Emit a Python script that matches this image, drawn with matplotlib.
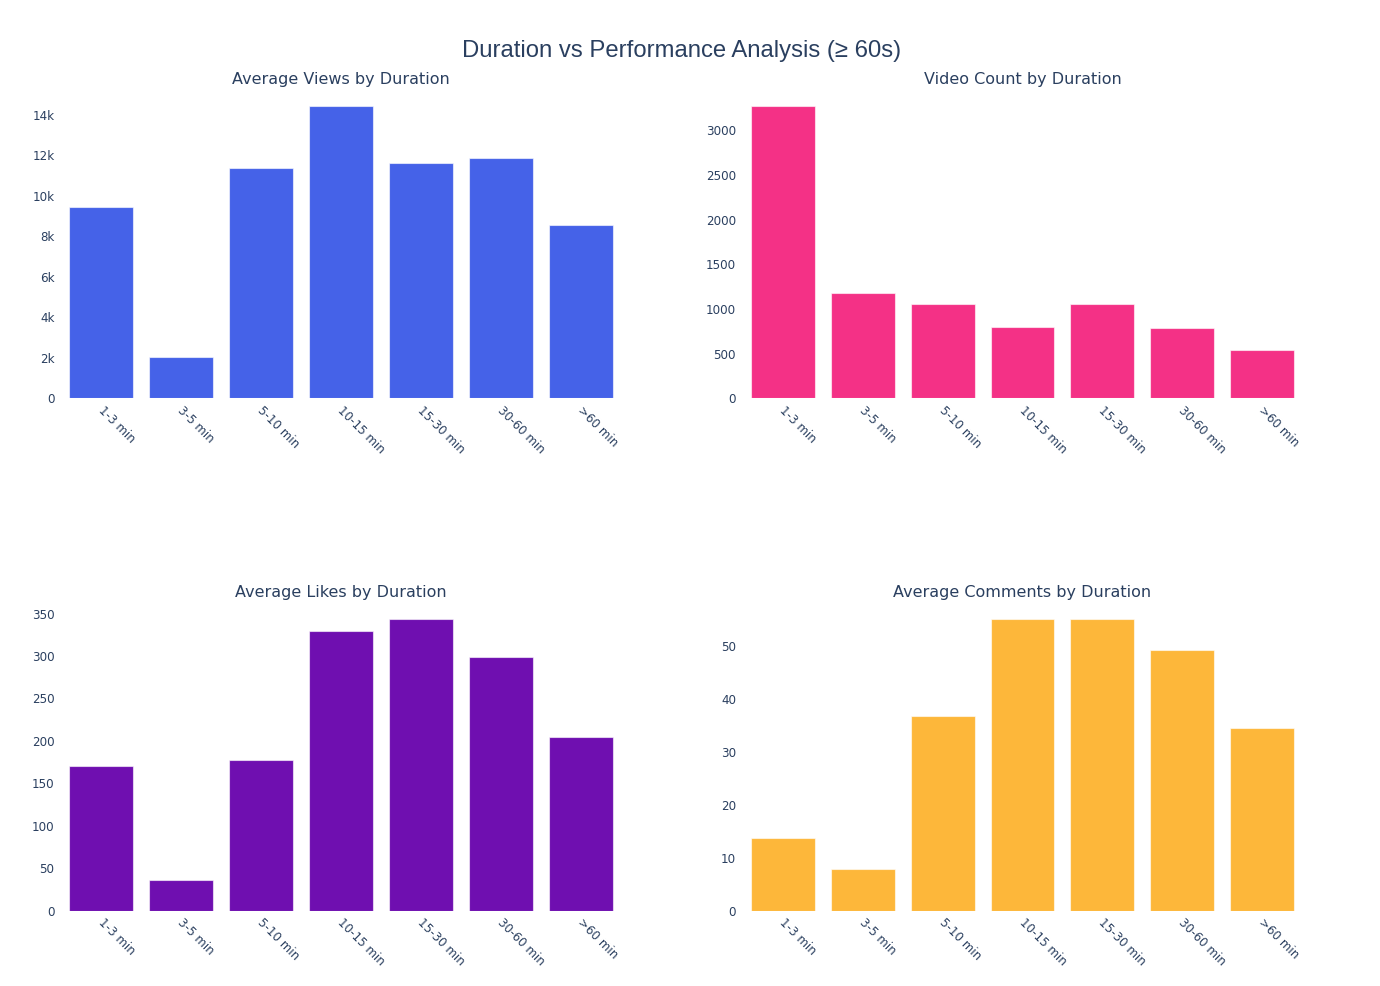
import matplotlib
matplotlib.use("Agg")
import matplotlib.pyplot as plt
from matplotlib.ticker import FuncFormatter

categories = ["1-3 min", "3-5 min", "5-10 min", "10-15 min", "15-30 min", "30-60 min", ">60 min"]
avg_views = [9430, 2040, 11360, 14460, 11620, 11890, 8560]
video_count = [3277, 1184, 1057, 799, 1061, 791, 538]
avg_likes = [170.3, 36.2, 177.8, 329.6, 344.1, 298.9, 204.1]
avg_comments = [13.7, 7.8, 36.8, 55.1, 55.25, 49.4, 34.5]

W, H = 1380, 986
TXT = "#2a3f5f"
fig = plt.figure(figsize=(W / 100, H / 100), dpi=100)
fig.patch.set_facecolor("white")

def box(x0, y0, x1, y1):
    return [x0 / W, 1 - y1 / H, (x1 - x0) / W, (y1 - y0) / H]

panels = [
    ("Average Views by Duration", avg_views, "#4562e8", box(61.5, 86, 620.5, 398.3), 2000, True),
    ("Video Count by Duration", video_count, "#f43186", box(743, 86, 1302, 398.3), 500, False),
    ("Average Likes by Duration", avg_likes, "#6f0fb0", box(61.5, 599, 620.5, 910.7), 50, False),
    ("Average Comments by Duration", avg_comments, "#fdb73a", box(743, 599, 1302, 910.7), 10, False),
]

for title, vals, col, rect, step, kfmt in panels:
    ax = fig.add_axes(rect)
    x = range(len(categories))
    ax.bar(x, vals, width=0.8, color=col, edgecolor=(1, 1, 1, 0.6), linewidth=0.8)
    ax.set_xlim(-0.5, len(categories) - 0.5)
    top = max(vals) * 1.067
    ax.set_ylim(0, top)
    ticks = [t for t in range(0, int(top) + 1, step)]
    ax.set_yticks(ticks)
    if kfmt:
        ax.yaxis.set_major_formatter(FuncFormatter(lambda v, p: "0" if v == 0 else f"{int(v / 1000)}k"))
    ax.set_xticks([i + 0.04 for i in x])
    ax.set_xticklabels(categories, rotation=-45, ha="left", va="top", rotation_mode="anchor")
    for s in ax.spines.values():
        s.set_visible(False)
    ax.tick_params(axis="both", length=0, colors=TXT, labelsize=8.6)
    ax.tick_params(axis="y", pad=5)
    ax.tick_params(axis="x", pad=4)
    ax.text(0.5, 1 + 6 / (rect[3] * H), title, transform=ax.transAxes, ha="center", va="center",
            fontsize=11.5, color=TXT)

fig.text(682 / W, 1 - 51.5 / H, "Duration vs Performance Analysis (\u2265 60s)", ha="center", va="center",
         fontsize=17.2, color=TXT, family=["Liberation Sans", "DejaVu Sans"])

fig.savefig("out.png", dpi=100, facecolor="white")
